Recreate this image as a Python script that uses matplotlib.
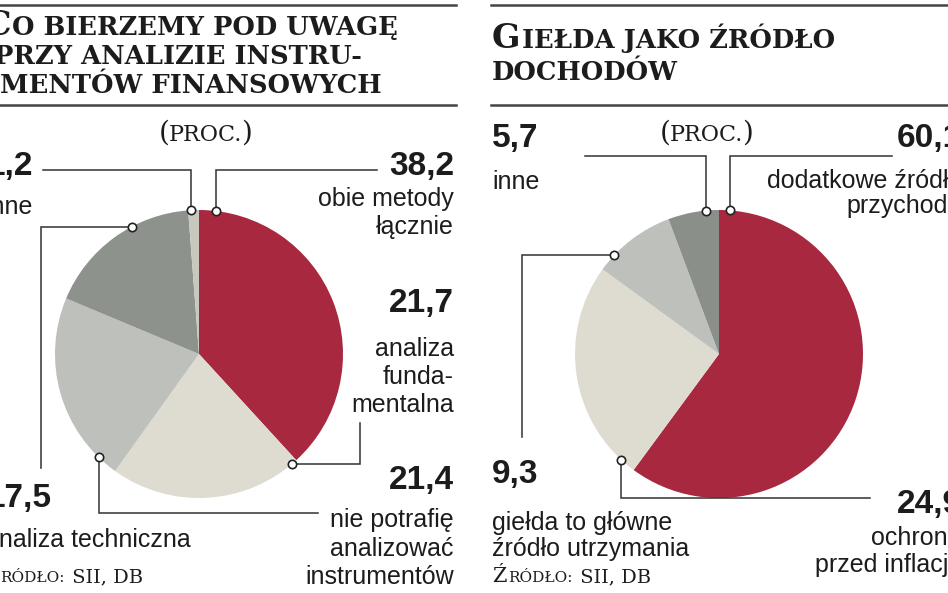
import matplotlib
matplotlib.use('Agg')
import matplotlib.pyplot as plt
import numpy as np
from matplotlib import font_manager

W, H = 948, 593

# left chart
left_title = [('C', 'O BIERZEMY POD UWAGĘ'), ('', 'PRZY ANALIZIE INSTRU-'), ('', 'MENTÓW FINANSOWYCH')]
left_values = [38.2, 21.7, 21.4, 17.5, 1.2]
left_numbers = ['38,2', '21,7', '21,4', '17,5', '1,2']
left_labels = [['obie metody', 'łącznie'],
               ['analiza', 'funda-', 'mentalna'],
               ['nie potrafię', 'analizować', 'instrumentów'],
               ['analiza techniczna'],
               ['inne']]
left_colors = ['#a8293f', '#dedcd0', '#bec0bb', '#8d928d', '#c8c9be']

# right chart
right_title = [('G', 'IEŁDA JAKO ŹRÓDŁO'), ('', 'DOCHODÓW')]
right_values = [60.1, 24.9, 9.3, 5.7]
right_numbers = ['60,1', '24,9', '9,3', '5,7']
right_labels = [['dodatkowe źródło', 'przychodu'],
                ['ochrona', 'przed inflacją'],
                ['giełda to główne', 'źródło utrzymania'],
                ['inne']]
right_colors = ['#a8293f', '#dedcd0', '#bec0bb', '#8a8f8a']

unit_text = '(PROC.)'
source_text = ('Ź', 'RÓDŁO:', ' SII, DB')

names = {f.name for f in font_manager.fontManager.ttflist}
SANS = next(n for n in ['Liberation Sans', 'Roboto', 'DejaVu Sans'] if n in names)
SERIF = 'DejaVu Serif'
INK = '#1c1c1c'
LINE = '#3a3a3a'

fig = plt.figure(figsize=(W / 100, H / 100), dpi=100)
ax = fig.add_axes([0, 0, 1, 1])
renderer = fig.canvas.get_renderer()


def Y(y):
    # pixel row (from top) -> data y
    return H - y


def parts_text(x, y, parts, ha='left', weight='normal', gap=1.5):
    """Draw a run of (text, size) pieces on one baseline, like small caps."""
    items = []
    for s, size in parts:
        if not s:
            continue
        t = ax.text(0, 0, s, fontsize=size, family=SERIF, weight=weight,
                    color=INK, va='baseline', ha='left')
        items.append((t, t.get_window_extent(renderer).width))
    total = sum(w for _, w in items) + gap * (len(items) - 1)
    x0 = {'left': x, 'right': x - total, 'center': x - total / 2}[ha]
    for t, w in items:
        t.set_position((x0, Y(y)))
        x0 += w + gap


def number(x, y, s, ha):
    ax.text(x, Y(y), s, fontsize=24, family=SANS, weight='bold',
            color=INK, ha=ha, va='baseline')


def label(x, ys, lines, ha):
    for yy, s in zip(ys, lines):
        ax.text(x, Y(yy), s, fontsize=18, family=SANS, color=INK,
                ha=ha, va='baseline')


def leader(center, r, ang, path):
    a = np.radians(ang)
    dx, dy = center[0] + r * np.cos(a), center[1] - r * np.sin(a)
    pts = []
    for px, py in path:
        pts.append((dx if px is None else px, dy if py is None else py))
    xs = [dx] + [p[0] for p in pts]
    ys = [Y(dy)] + [Y(p[1]) for p in pts]
    ax.plot(xs, ys, color=LINE, lw=1.15, solid_joinstyle='miter', zorder=3)
    ax.plot([dx], [Y(dy)], 'o', ms=6, mfc='white', mec='#222222', mew=1.2, zorder=4)


# rules
for x0, x1 in [(0, 456), (491, W)]:
    for yy in (5, 105):
        ax.plot([x0, x1], [Y(yy), Y(yy)], color='#444444', lw=1.8)

# titles
parts_text(398, 35, [(left_title[0][0], 24), (left_title[0][1], 18.5)], ha='right', weight='bold')
parts_text(362, 64, [(left_title[1][1], 18.5)], ha='right', weight='bold')
parts_text(382, 93, [(left_title[2][1], 18.5)], ha='right', weight='bold')
parts_text(492, 48, [(right_title[0][0], 24), (right_title[0][1], 18.5)], weight='bold')
parts_text(492, 80, [(right_title[1][1], 18.5)], weight='bold')

# unit note
for cx in (205, 706):
    parts_text(cx, 141, [('(', 20), (unit_text[1:-1], 16), (')', 20)], ha='center', gap=-1)

# source
src = [(source_text[0], 15), (source_text[1], 11), (source_text[2], 14)]
parts_text(143, 582, src, ha='right')
parts_text(492, 582, src, ha='left')

# pies
lc, rc, R = (199, 354), (719, 354), 144
ax.pie(left_values, colors=left_colors, startangle=90, counterclock=False,
       center=(lc[0], Y(lc[1])), radius=R, wedgeprops=dict(linewidth=0))
ax.pie(right_values, colors=right_colors, startangle=90, counterclock=False,
       center=(rc[0], Y(rc[1])), radius=R, wedgeprops=dict(linewidth=0))

# left annotations
leader(lc, R, 83.2, [(None, 170), (377, 170)])
leader(lc, R, 93.2, [(None, 170), (43, 170)])
leader(lc, R, 117.8, [(41, None), (41, 468)])
leader(lc, R, 225.9, [(None, 513), (318, 513)])
leader(lc, R, 310.0, [(360, None), (360, 423)])

number(454, 175, left_numbers[0], 'right')
label(454, [206, 234], left_labels[0], 'right')
number(454, 312, left_numbers[1], 'right')
label(454, [356, 384, 412], left_labels[1], 'right')
number(454, 489, left_numbers[2], 'right')
label(454, [527, 556, 584], left_labels[2], 'right')
number(52, 507, left_numbers[3], 'right')
label(191, [547], left_labels[3], 'right')
number(33, 175, left_numbers[4], 'right')
label(33, [214], left_labels[4], 'right')

# right annotations
leader(rc, R, 85.6, [(None, 156), (892, 156)])
leader(rc, R, 95.2, [(None, 156), (585, 156)])
leader(rc, R, 136.7, [(522, None), (522, 437)])
leader(rc, R, 227.3, [(None, 498), (870, 498)])

number(962, 147, right_numbers[0], 'right')
label(962, [188, 213], right_labels[0], 'right')
number(962, 513, right_numbers[1], 'right')
label(962, [545, 572], right_labels[1], 'right')
number(492, 483, right_numbers[2], 'left')
label(492, [530, 556], right_labels[2], 'left')
number(492, 147, right_numbers[3], 'left')
label(492, [189], right_labels[3], 'left')

ax.set_xlim(0, W)
ax.set_ylim(0, H)
ax.set_aspect('auto')
ax.axis('off')

fig.savefig('out.png', dpi=100)
